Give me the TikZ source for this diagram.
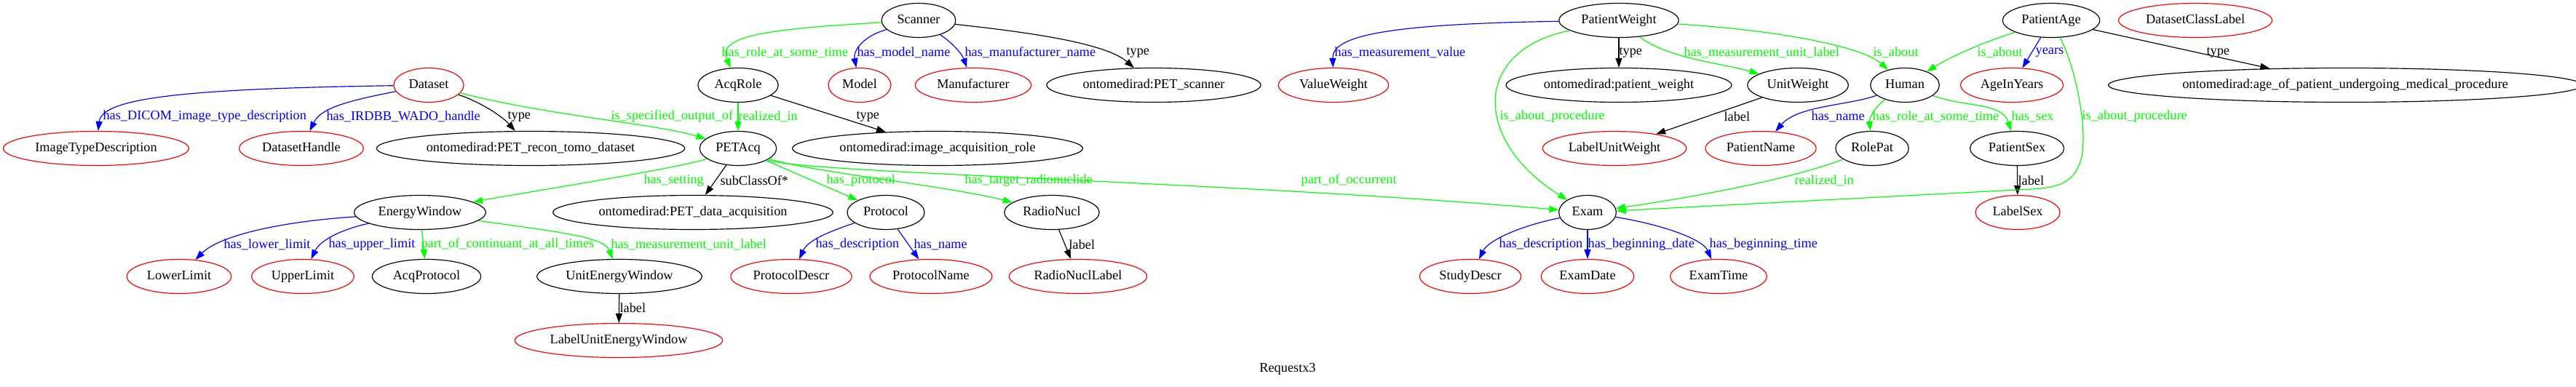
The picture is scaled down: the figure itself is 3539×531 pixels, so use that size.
\documentclass[tikz,border=0pt]{standalone}
\usepackage{fontspec}
\setmainfont{Liberation Serif}
\usetikzlibrary{shapes.geometric,arrows.meta}

\definecolor{gvred}{RGB}{255,0,0}
\definecolor{gvblue}{RGB}{0,0,255}
\definecolor{gvgreen}{RGB}{0,255,0}

\tikzset{
  cls/.style={draw=black, ellipse, line width=0.9pt, minimum height=36pt,
    minimum width=54pt, inner xsep=5pt, inner ysep=1pt,
    text height=10pt, text depth=3pt},
  lit/.style={cls, draw=gvred},
  lbl/.style={anchor=west, inner sep=0pt},
  rel/.style={line width=0.9pt, -{Triangle[length=10pt,width=7pt]}},
}

\begin{document}
\begin{tikzpicture}[x=0.7657pt, y=-0.7657pt, font=\fontsize{14pt}{16pt}\selectfont]
      \useasboundingbox (0,0) rectangle (3539,531);
      \draw
        (1262,28) node[cls] (scanner){Scanner}
        (2224,28) node[cls] (pweight){PatientWeight}
        (2818,28) node[cls] (page){PatientAge}
        (3016,28) node[lit] (dsclass){DatasetClassLabel}
        (589,117) node[lit] (dataset){Dataset}
        (1014,117) node[cls] (acqrole){AcqRole}
        (1181,117) node[lit] (model){Model}
        (1337,117) node[lit] (manuf){Manufacturer}
        (1585,117) node[cls] (petscanner){ontomedirad:PET\_scanner}
        (1832,117) node[lit] (valweight){ValueWeight}
        (2224,117) node[cls] (pwclass){ontomedirad:patient\_weight}
        (2470,117) node[cls] (unitweight){UnitWeight}
        (2617,117) node[cls] (human){Human}
        (2764,117) node[lit] (ageyears){AgeInYears}
        (3222,117) node[cls] (ageclass){ontomedirad:age\_of\_patient\_undergoing\_medical\_procedure}
        (132,204) node[lit] (imgtype){ImageTypeDescription}
        (414,204) node[lit] (dshandle){DatasetHandle}
        (729,204) node[cls] (reconclass){ontomedirad:PET\_recon\_tomo\_dataset}
        (1014,204) node[cls] (petacq){PETAcq}
        (1288,204) node[cls] (roleclass){ontomedirad:image\_acquisition\_role}
        (2218,204) node[lit] (lblweight){LabelUnitWeight}
        (2419,204) node[lit] (pname){PatientName}
        (2572,204) node[cls] (rolepat){RolePat}
        (2771,204) node[cls] (psex){PatientSex}
        (577,292) node[cls] (ewin){EnergyWindow}
        (952,292) node[cls] (acqclass){ontomedirad:PET\_data\_acquisition}
        (1217,292) node[cls] (protocol){Protocol}
        (1445,292) node[cls] (radionucl){RadioNucl}
        (2181,292) node[cls] (exam){Exam}
        (2772,292) node[lit] (lblsex){LabelSex}
        (246,380) node[lit] (lower){LowerLimit}
        (416,380) node[lit] (upper){UpperLimit}
        (586,380) node[cls] (acqprot){AcqProtocol}
        (851,380) node[cls] (unitew){UnitEnergyWindow}
        (1087,380) node[lit] (protdescr){ProtocolDescr}
        (1279,380) node[lit] (protname){ProtocolName}
        (1481,380) node[lit] (nucllabel){RadioNuclLabel}
        (2020,380) node[lit] (studydescr){StudyDescr}
        (2181,380) node[lit] (examdate){ExamDate}
        (2361,380) node[lit] (examtime){ExamTime}
        (850,468) node[lit] (lblunitew){LabelUnitEnergyWindow}
        (1769,507) node (title){Requestx3};
      \begin{scope}[rel]
        % Dataset
        \draw[gvblue] (dataset) .. controls (250,122) and (140,135) .. (imgtype)
          node[lbl] at (141,160) {has\_DICOM\_image\_type\_description};
        \draw[gvblue] (dataset) .. controls (470,140) and (440,150) .. (dshandle)
          node[lbl] at (448,160) {has\_IRDBB\_WADO\_handle};
        \draw (dataset) .. controls (660,140) and (690,160) .. (reconclass)
          node[lbl] at (697,160) {type};
        \draw[gvgreen] (dataset) .. controls (760,160) and (900,170) .. (petacq)
          node[lbl] at (839,160) {is\_specified\_output\_of};
        % Scanner and AcqRole
        \draw[gvgreen] (scanner) .. controls (1050,40) and (985,50) .. (acqrole)
          node[lbl] at (991,72) {has\_role\_at\_some\_time};
        \draw[gvblue] (scanner) .. controls (1185,50) and (1172,70) .. (model)
          node[lbl] at (1177,72) {has\_model\_name};
        \draw[gvblue] (scanner) .. controls (1310,60) and (1322,75) .. (manuf)
          node[lbl] at (1325,72) {has\_manufacturer\_name};
        \draw (scanner) .. controls (1420,45) and (1520,60) .. (petscanner)
          node[lbl] at (1547,72) {type};
        \draw[gvgreen] (acqrole) to (petacq)
          node[lbl] at (1014,160) {realized\_in};
        \draw (acqrole) to (roleclass)
          node[lbl] at (1176,160) {type};
        % PETAcq
        \draw[gvgreen] (petacq) .. controls (930,232) and (700,268) .. (ewin)
          node[lbl] at (884,248) {has\_setting};
        \draw (petacq) to (acqclass)
          node[lbl] at (989,248) {subClassOf*};
        \draw[gvgreen] (petacq) to (protocol)
          node[lbl] at (1135,248) {has\_protocol};
        \draw[gvgreen] (petacq) .. controls (1110,236) and (1300,255) .. (radionucl)
          node[lbl] at (1325,248) {has\_target\_radionuclide};
        \draw[gvgreen] (petacq) .. controls (1100,238) and (1700,250) .. (exam)
          node[lbl] at (1787,248) {part\_of\_occurrent};
        % EnergyWindow
        \draw[gvblue] (ewin) .. controls (380,305) and (300,325) .. (lower)
          node[lbl] at (307,336) {has\_lower\_limit};
        \draw[gvblue] (ewin) .. controls (470,315) and (440,330) .. (upper)
          node[lbl] at (451,336) {has\_upper\_limit};
        \draw[gvgreen] (ewin) to (acqprot)
          node[lbl] at (578,336) {part\_of\_continuant\_at\_all\_times};
        \draw[gvgreen] (ewin) .. controls (760,318) and (830,325) .. (unitew)
          node[lbl] at (839,336) {has\_measurement\_unit\_label};
        \draw (unitew) to (lblunitew)
          node[lbl] at (851,423) {label};
        % Protocol and RadioNucl
        \draw[gvblue] (protocol) .. controls (1140,318) and (1110,330) .. (protdescr)
          node[lbl] at (1120,336) {has\_description};
        \draw[gvblue] (protocol) to (protname)
          node[lbl] at (1255,336) {has\_name};
        \draw (radionucl) to (nucllabel)
          node[lbl] at (1468,336) {label};
        % PatientWeight
        \draw[gvblue] (pweight) .. controls (1900,33) and (1830,50) .. (valweight)
          node[lbl] at (1833,72) {has\_measurement\_value};
        \draw (pweight) to (pwclass)
          node[lbl] at (2224,72) {type};
        \draw[gvgreen] (pweight) .. controls (2290,80) and (2370,88) .. (unitweight)
          node[lbl] at (2313,72) {has\_measurement\_unit\_label};
        \draw[gvgreen] (pweight) .. controls (2450,42) and (2560,65) .. (human)
          node[lbl] at (2573,72) {is\_about};
        \draw[gvgreen] (pweight) .. controls (2020,70) and (2025,195) .. (exam)
          node[lbl] at (2060,160) {is\_about\_procedure};
        \draw (unitweight) to (lblweight)
          node[lbl] at (2368,160) {label};
        % Human
        \draw[gvblue] (human) .. controls (2540,145) and (2470,145) .. (pname)
          node[lbl] at (2488,160) {has\_name};
        \draw[gvgreen] (human) .. controls (2572,150) and (2568,165) .. (rolepat)
          node[lbl] at (2572,160) {has\_role\_at\_some\_time};
        \draw[gvgreen] (human) .. controls (2700,148) and (2750,140) .. (psex)
          node[lbl] at (2763,160) {has\_sex};
        \draw[gvgreen] (rolepat) .. controls (2450,250) and (2300,275) .. (exam)
          node[lbl] at (2465,248) {realized\_in};
        \draw (psex) to (lblsex)
          node[lbl] at (2772,248) {label};
        % PatientAge
        \draw[gvgreen] (page) .. controls (2720,60) and (2680,78) .. (human)
          node[lbl] at (2716,72) {is\_about};
        \draw[gvblue] (page) to (ageyears)
          node[lbl] at (2796,72) {years};
        \draw (page) to (ageclass)
          node[lbl] at (3031,72) {type};
        \draw[gvgreen] (page) .. controls (2850,90) and (2868,170) .. (2860,215)
          .. controls (2852,250) and (2830,258) .. (2790,260) -- (exam)
          node[lbl] at (2860,160) {is\_about\_procedure};
        % Exam
        \draw[gvblue] (exam) .. controls (2090,310) and (2045,330) .. (studydescr)
          node[lbl] at (2059,336) {has\_description};
        \draw[gvblue] (exam) to (examdate)
          node[lbl] at (2181,336) {has\_beginning\_date};
        \draw[gvblue] (exam) .. controls (2290,310) and (2340,330) .. (examtime)
          node[lbl] at (2348,336) {has\_beginning\_time};
      \end{scope}
    \end{tikzpicture}
\end{document}
